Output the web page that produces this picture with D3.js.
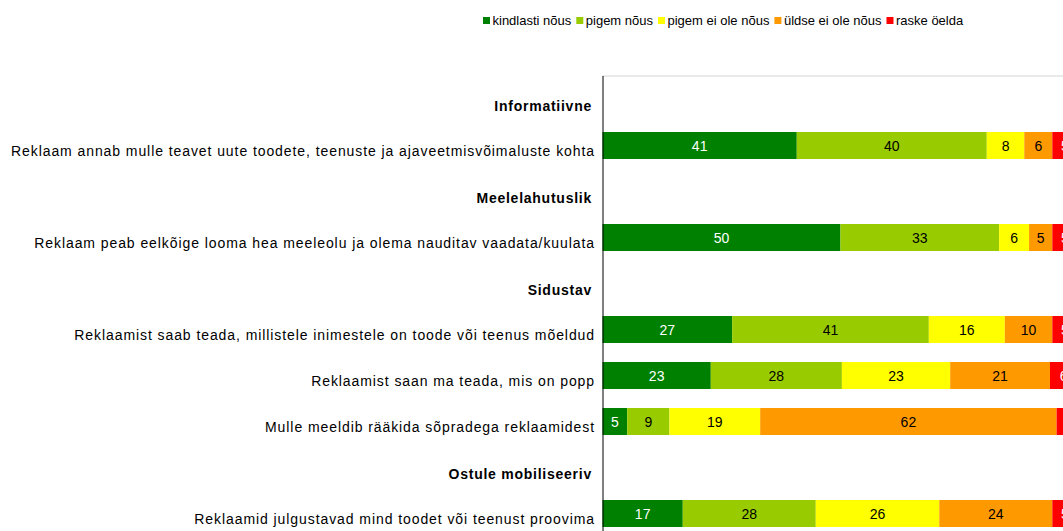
<!DOCTYPE html>
<html>
<head>
<meta charset="utf-8">
<script src="https://cdn.jsdelivr.net/npm/d3@7"></script>
<style>
  body { margin: 0; background: #ffffff; overflow: hidden; }
  text { font-family: "Liberation Sans", Arial, sans-serif; }
</style>
</head>
<body>
<div id="container"></div>
<script>
let w = 1063;
let h = 531;

// all rows from top to bottom, group titles included
let categories = [
  "Informatiivne",
  "Reklaam annab mulle teavet uute toodete, teenuste ja ajaveetmisvõimaluste kohta",
  "Meelelahutuslik",
  "Reklaam peab eelkõige looma hea meeleolu ja olema nauditav vaadata/kuulata",
  "Sidustav",
  "Reklaamist saab teada, millistele inimestele on toode või teenus mõeldud",
  "Reklaamist saan ma teada, mis on popp",
  "Mulle meeldib rääkida sõpradega reklaamidest",
  "Ostule mobiliseeriv",
  "Reklaamid julgustavad mind toodet või teenust proovima"
];
let headers = ["Informatiivne", "Meelelahutuslik", "Sidustav", "Ostule mobiliseeriv"];
let statements = categories.filter(function(c){ return headers.indexOf(c) == -1; });

let seriesNames = ["kindlasti nõus", "pigem nõus", "pigem ei ole nõus", "üldse ei ole nõus", "raske öelda"];
let seriesColors = ["#008000", "#99cc00", "#ffff00", "#ff9900", "#ff0000"];
let labelColors = ["#ffffff", "#000000", "#000000", "#000000", "#ffffff"];

// percentages, one value per statement
let kindlasti = [40.9, 50.1, 27.3, 22.8, 5.2, 16.9];
let pigem     = [40.0, 33.4, 41.4, 27.6, 8.9, 28.0];
let pigemEi   = [7.9, 6.3, 16.0, 22.8, 19.1, 26.0];
let yldseEi   = [5.9, 4.9, 10.0, 21.0, 62.4, 23.8];
let raske     = [5.3, 5.3, 5.3, 5.8, 4.4, 5.3];

let series = [kindlasti, pigem, pigemEi, yldseEi, raske];

// rows for d3.stack
let table = statements.map(function(s, i){
  let row = {label: s};
  seriesNames.forEach(function(name, j){ row[name] = series[j][i]; });
  return row;
});
let stacked = d3.stack().keys(seriesNames)(table);

let viz = d3.select("#container")
  .append("svg")
    .attr("width", w)
    .attr("height", h)
;

let xScale = d3.scaleLinear().domain([0, 100]).range([602.5, 1077.5]);
let yScale = d3.scaleBand().domain(categories).range([76.5, 536.5])
  .paddingInner(0.413).paddingOuter(0.2065);

// plot area top border
viz.append("line")
  .attr("x1", xScale(0)).attr("x2", w)
  .attr("y1", 76).attr("y2", 76)
  .attr("stroke", "#d4d4d4").attr("stroke-width", 1);

// bars
let layers = viz.append("g").attr("class", "bars")
  .selectAll("g").data(stacked).enter()
  .append("g")
    .attr("fill", function(d, i){ return seriesColors[i]; });

layers.selectAll("rect").data(function(d){ return d; }).enter()
  .append("rect")
    .attr("x", function(d){ return xScale(d[0]); })
    .attr("y", function(d){ return yScale(d.data.label); })
    .attr("width", function(d){ return xScale(d[1]) - xScale(d[0]); })
    .attr("height", yScale.bandwidth());

// value labels
layers.each(function(layer, i){
  d3.select(this).selectAll("text").data(layer).enter()
    .append("text")
      .attr("x", function(d){ return xScale((d[0] + d[1]) / 2); })
      .attr("y", function(d){ return yScale(d.data.label) + yScale.bandwidth() / 2 + 5; })
      .attr("text-anchor", "middle")
      .attr("font-size", "14px")
      .attr("fill", labelColors[i])
      .text(function(d){ return Math.round(d[1] - d[0]); });
});

// y axis
let yAxis = d3.axisLeft(yScale).tickSize(0).tickPadding(8);
let yAxisGroup = viz.append("g").attr("class", "yaxis")
  .attr("transform", "translate(" + xScale(0) + ",0)")
  .call(yAxis);
yAxisGroup.select(".domain").attr("stroke", "#000000").attr("d", "M0.5,76V" + h);
// the reference text is set a bit wider than plain Arial, hence the letter spacing
yAxisGroup.selectAll(".tick text")
  .attr("font-family", "Liberation Sans, Arial, sans-serif")
  .attr("font-size", "14px")
  .attr("font-weight", function(d){ return headers.indexOf(d) > -1 ? "bold" : "normal"; })
  .attr("letter-spacing", function(d){ return headers.indexOf(d) > -1 ? "0.75px" : "0.92px"; })
  .attr("fill", "#000000")
  .attr("x", function(d){ return headers.indexOf(d) > -1 ? -10.5 : -7.5; })
  .attr("dy", function(d){ return headers.indexOf(d) > -1 ? "11" : "10.5"; });

// legend
let legend = viz.append("g").attr("class", "legend");
let lx = 483;
seriesNames.forEach(function(name, i){
  legend.append("rect")
    .attr("x", lx).attr("y", 17)
    .attr("width", 7).attr("height", 7)
    .attr("fill", seriesColors[i]);
  let t = legend.append("text")
    .attr("x", lx + 9.5).attr("y", 25)
    .attr("font-size", "13px")
    .attr("fill", "#000000")
    .text(name);
  lx = lx + 9.5 + t.node().getComputedTextLength() + 5;
});
</script>
</body>
</html>
